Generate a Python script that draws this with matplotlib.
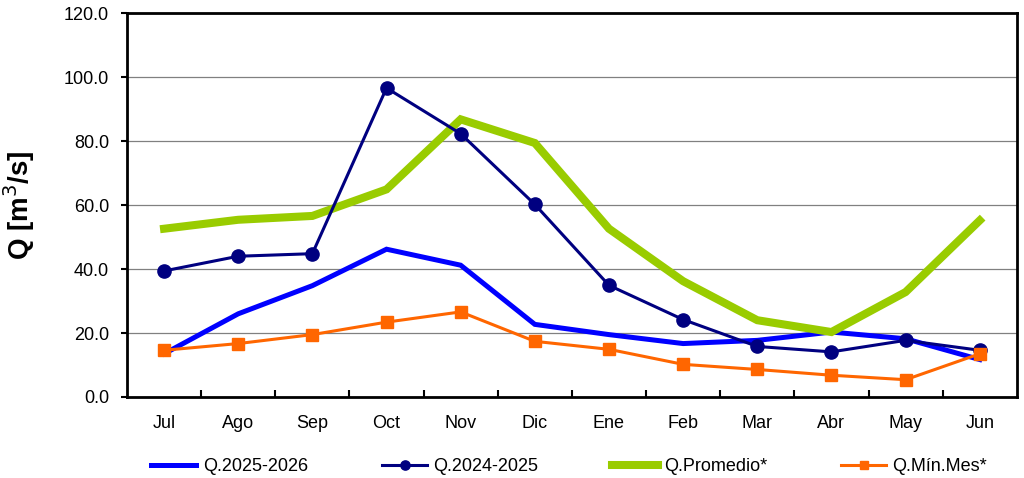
import matplotlib
matplotlib.use("Agg")
import matplotlib.pyplot as plt
from matplotlib.ticker import FixedLocator

plt.rcParams['font.family'] = ['Liberation Sans', 'DejaVu Sans']

# datos (m3/s)
meses = ["Jul", "Ago", "Sep", "Oct", "Nov", "Dic", "Ene", "Feb", "Mar", "Abr", "May", "Jun"]
q_2025_2026 = [13.5, 26.0, 34.8, 46.2, 41.2, 22.7, 19.5, 16.7, 17.7, 20.3, 18.2, 11.7]
q_2024_2025 = [39.4, 44.0, 44.8, 96.6, 82.3, 60.2, 34.9, 24.2, 15.8, 14.1, 17.7, 14.6]
q_promedio = [52.6, 55.4, 56.6, 64.9, 86.8, 79.4, 52.6, 36.2, 24.0, 20.3, 32.8, 55.2]
q_min_mes = [14.6, 16.7, 19.5, 23.4, 26.6, 17.4, 14.9, 10.2, 8.6, 6.8, 5.4, 13.5]

fig = plt.figure(figsize=(10.24, 4.78), dpi=100)
ax = fig.add_axes([0.124, 0.1695, 0.869, 0.803])

x = list(range(len(meses)))

ax.plot(x, q_2025_2026, color="#0000FF", lw=3.6, label="Q.2025-2026", zorder=3,
        solid_joinstyle='miter')
ax.plot(x, q_2024_2025, color="#000080", lw=2.2, marker='o', markersize=9.5,
        label="Q.2024-2025", zorder=5)
ax.plot(x, q_promedio, color="#99CC00", lw=5.8, label="Q.Promedio*", zorder=4,
        solid_joinstyle='miter')
ax.plot(x, q_min_mes, color="#FF6600", lw=2.2, marker='s', markersize=9,
        label="Q.Mín.Mes*", zorder=6)

ax.set_xlim(-0.5, len(meses) - 0.5)
ax.set_ylim(0, 120)
ax.set_yticks([0, 20, 40, 60, 80, 100, 120])
ax.set_yticklabels(["%.1f" % v for v in [0, 20, 40, 60, 80, 100, 120]])
ax.set_xticks(x)
ax.set_xticklabels(meses)
ax.xaxis.set_minor_locator(FixedLocator([i + 0.5 for i in range(len(meses) - 1)]))

ax.tick_params(axis='x', which='major', length=0, pad=13, labelsize=13)
ax.tick_params(axis='x', which='minor', direction='in', length=5, width=1.5)
ax.tick_params(axis='y', which='major', direction='out', length=4, width=1.5,
               pad=9, labelsize=13)

ax.yaxis.grid(True, color="#808080", lw=0.9, zorder=0)
ax.set_axisbelow(True)
for s in ax.spines.values():
    s.set_linewidth(2.0)
    s.set_color("black")

ax.set_ylabel("Q [m$^3$/s]", fontsize=20, fontweight='bold', labelpad=19)

fig.legend(loc='center', bbox_to_anchor=(0.556, 0.024), ncol=4, frameon=False,
           fontsize=13, handlelength=2.5, handletextpad=0.35, columnspacing=4.1,
           markerscale=0.7)

fig.savefig("out.png", dpi=100)
